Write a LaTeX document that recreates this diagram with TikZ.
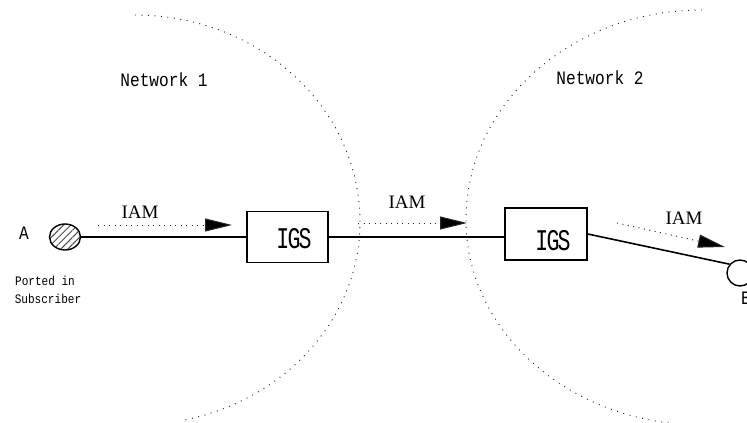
\documentclass[tikz,border=0pt]{standalone}
\usepackage{fontspec}
\setmainfont{Liberation Serif}
\newfontfamily\courA[FakeStretch=0.85]{Liberation Mono}
\newfontfamily\courB[FakeStretch=0.72,LetterSpace=-6]{Liberation Mono}
\usetikzlibrary{arrows.meta,patterns.meta,shapes.geometric}
\tikzset{
  arcline/.style={line width=0.9pt, dash pattern=on 1pt off 5.5pt, black!85},
  wire/.style={line width=1.6pt},
  gsbox/.style={draw, line width=1.6pt, rectangle, inner sep=0pt},
  msg/.style={line width=1pt, dash pattern=on 1pt off 4.5pt, black!85,
              -{Triangle[length=27pt,width=13pt,fill=black]}},
  iamlbl/.style={font=\fontsize{19}{19}\selectfont, inner sep=0pt},
  netlbl/.style={font=\courA\fontsize{19}{19}\selectfont, inner sep=0pt},
  gslbl/.style={font=\courB\fontsize{30}{30}\selectfont, inner sep=0pt},
  endlbl/.style={font=\courA\fontsize{19}{19}\selectfont, inner sep=0pt},
  smalllbl/.style={font=\courA\fontsize{13}{13}\selectfont, inner sep=0pt},
}
\begin{document}
\begin{tikzpicture}[x=1pt,y=1pt]
\useasboundingbox (0,0) rectangle (747,-423);
% network boundaries
\draw[arcline] (135,-15) arc[start angle=90,end angle=0,x radius=225pt,y radius=207pt]
   arc[start angle=0,end angle=-78,x radius=225pt,y radius=203pt];
\draw[arcline] (702,-10) arc[start angle=90,end angle=180,x radius=236pt,y radius=210pt]
   arc[start angle=180,end angle=265,x radius=236pt,y radius=205pt];
% labels
\node[netlbl] (net1) at (164,-80) {Network 1};
\node[netlbl] (net2) at (600,-78) {Network 2};
% subscribers
\node[draw, ellipse, line width=1.4pt, minimum width=31pt, minimum height=26pt, inner sep=0pt,
      pattern={Lines[angle=45,distance=5pt,line width=1pt]}, pattern color=black!70] (subA) at (65,-237) {};
\node[draw, circle, line width=1.4pt, minimum size=26pt, inner sep=0pt] (subB) at (740,-273) {};
\node[endlbl] (lA) at (24,-233) {A};
\node[endlbl] (lB) at (746,-298) {B};
\node[smalllbl] (p1) at (45,-281) {Ported in};
\node[smalllbl] (p2) at (48,-299) {Subscriber};
% gateways
\node[gsbox, minimum width=81pt, minimum height=51pt] (box1) at (287.5,-237) {};
\node[gsbox, minimum width=82pt, minimum height=52pt] (box2) at (546,-234) {};
\node[gslbl] (g1) at (294,-239) {IGS};
\node[gslbl] (g2) at (553,-241) {IGS};
% wires
\draw[wire] (subA.east) -- (box1.west);
\draw[wire] (box1.east) -- (box1.east -| box2.west);
\draw[wire] (box2.east) -- (subB.140);
% messages
\coordinate (m1s) at (98,-225);  \coordinate (m1e) at (232,-225);
\coordinate (m2s) at (358,-223); \coordinate (m2e) at (467,-223);
\coordinate (m3s) at (617,-223); \coordinate (m3e) at (725,-247);
\draw[msg] (m1s) -- (m1e);
\draw[msg] (m2s) -- (m2e);
\draw[msg] (m3s) -- (m3e);
\node[iamlbl] (i1) at (140,-212) {IAM};
\node[iamlbl] (i2) at (407,-202) {IAM};
\node[iamlbl] (i3) at (684,-218) {IAM};
\end{tikzpicture}
\end{document}
